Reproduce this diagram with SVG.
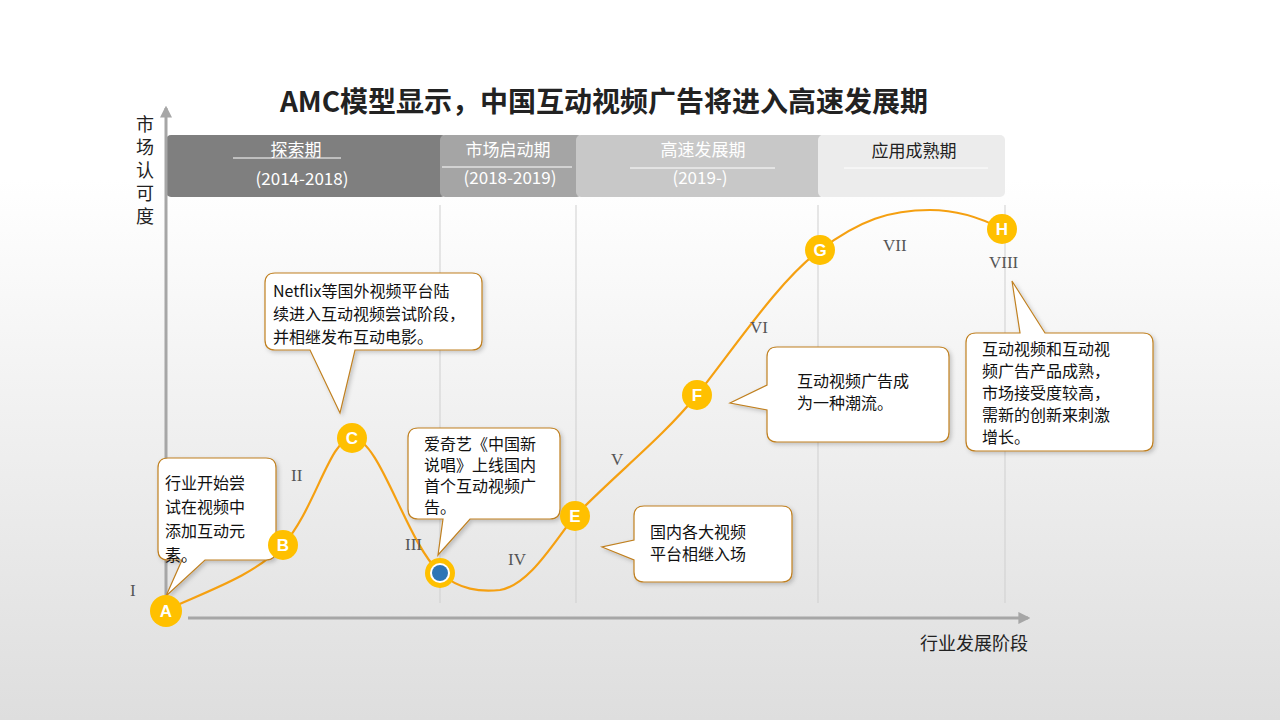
<svg xmlns="http://www.w3.org/2000/svg" width="1280" height="720" viewBox="0 0 1280 720">
<defs>
<linearGradient id="bg" x1="0" y1="0" x2="0" y2="1"><stop offset="0.25" stop-color="#ffffff"/><stop offset="1" stop-color="#dedede"/></linearGradient>
<marker id="ar" viewBox="0 0 10 10" refX="8" refY="5" markerWidth="4" markerHeight="4" orient="auto"><path d="M0,0L10,5L0,10z" fill="#a6a6a6"/></marker>
<filter id="sh" x="-10%" y="-10%" width="130%" height="130%"><feDropShadow dx="2" dy="2" stdDeviation="2" flood-color="#000" flood-opacity="0.2"/></filter>
</defs>
<style>
text{font-family:"Noto Sans CJK SC","Liberation Sans",sans-serif}
.call{fill:#fff;stroke:#c08020;stroke-width:1.2;filter:url(#sh)}
.ct{font-size:16px;fill:#111}
.rn{font-family:"Liberation Serif",serif;font-size:17px;fill:#555}
.dot{fill:#ffc000}
.lt{font-family:"Liberation Sans",sans-serif;font-weight:bold;font-size:17px;fill:#fff;text-anchor:middle}
.vl{stroke:#cfcfcf;stroke-width:1}
.hd{font-size:17px;text-anchor:middle}
.ax{font-size:18px;fill:#222;text-anchor:middle}
</style>
<rect width="1280" height="720" fill="url(#bg)"/>
<text x="604" y="112" text-anchor="middle" font-size="28" font-weight="bold" fill="#222">AMC模型显示，中国互动视频广告将进入高速发展期</text>
<g id="header">
<rect x="166" y="135" width="280" height="62" rx="5" fill="#7f7f7f"/>
<rect x="440" y="135" width="142" height="62" rx="5" fill="#a5a5a5"/>
<rect x="576" y="135" width="248" height="62" rx="5" fill="#c8c8c8"/>
<rect x="818" y="135" width="187" height="62" rx="5" fill="#ececec"/>
<text class="hd" x="296" y="156" fill="#fff">探索期</text>
<line x1="233" y1="158" x2="341" y2="158" stroke="#fff"/>
<text class="hd" x="302" y="185" fill="#fff">(2014-2018)</text>
<text class="hd" x="508" y="156" fill="#fff">市场启动期</text>
<line x1="442" y1="167" x2="572" y2="167" stroke="#fff"/>
<text class="hd" x="510" y="184" fill="#fff">(2018-2019)</text>
<text class="hd" x="703" y="156" fill="#fff">高速发展期</text>
<line x1="630" y1="168" x2="775" y2="168" stroke="#fff"/>
<text class="hd" x="700" y="184" fill="#fff">(2019-)</text>
<text class="hd" x="914" y="157" fill="#222">应用成熟期</text>
<line x1="844" y1="168" x2="988" y2="168" stroke="#fff"/>
</g>
<g id="grid">
<line class="vl" x1="440" y1="205" x2="440" y2="603"/>
<line class="vl" x1="576" y1="205" x2="576" y2="603"/>
<line class="vl" x1="818" y1="205" x2="818" y2="603"/>
<line class="vl" x1="1005" y1="205" x2="1005" y2="603"/>
</g>
<g id="axes" stroke="#a6a6a6" stroke-width="3" fill="none">
<line x1="166" y1="600" x2="166" y2="108" marker-end="url(#ar)"/>
<line x1="188" y1="618" x2="1028" y2="618" marker-end="url(#ar)"/>
</g>
<text class="ax" x="145" y="131">市</text>
<text class="ax" x="145" y="154">场</text>
<text class="ax" x="145" y="177">认</text>
<text class="ax" x="145" y="200">可</text>
<text class="ax" x="145" y="223">度</text>
<text class="ax" x="974" y="650">行业发展阶段</text>
<g id="connectors">
<path d="M166,610 C210,590 255,575 283,545 C315,510 330,438 352,438 C380,438 405,540 440,573 C460,590 480,592 500,590 C530,585 555,540 575,516 C620,470 660,440 697,395 C740,340 780,280 820,250 C860,220 890,210 930,210 C960,210 985,220 1002,229" fill="none" stroke="#f5a011" stroke-width="2.2"/>
</g>
<g id="roman">
<text class="rn" x="130" y="596">I</text>
<text class="rn" x="291" y="481">II</text>
<text class="rn" x="405" y="550">III</text>
<text class="rn" x="508" y="565">IV</text>
<text class="rn" x="611" y="465">V</text>
<text class="rn" x="750" y="333">VI</text>
<text class="rn" x="883" y="251">VII</text>
<text class="rn" x="989" y="268">VIII</text>
</g>
<g id="callout1"><path class="call" d="M168,458 H266 Q276,458 276,468 V550 Q276,560 266,560 H205 L166,596 L182,560 H168 Q158,560 158,550 V468 Q158,458 168,458 Z"/>
<text class="ct" x="165" y="489">行业开始尝</text><text class="ct" x="165" y="513">试在视频中</text><text class="ct" x="165" y="537">添加互动元</text><text class="ct" x="165" y="561">素。</text></g>
<g id="callout2"><path class="call" d="M275,273 H472 Q482,273 482,283 V340 Q482,350 472,350 H355 L340,413 L310,350 H275 Q265,350 265,340 V283 Q265,273 275,273 Z"/>
<text class="ct" x="273" y="297">Netflix等国外视频平台陆</text><text class="ct" x="273" y="320">续进入互动视频尝试阶段，</text><text class="ct" x="273" y="343">并相继发布互动电影。</text></g>
<g id="callout3"><path class="call" d="M418,428 H550 Q560,428 560,438 V509 Q560,519 550,519 H470 L438,555 L443,519 H418 Q408,519 408,509 V438 Q408,428 418,428 Z"/>
<text class="ct" x="424" y="450">爱奇艺《中国新</text><text class="ct" x="424" y="471">说唱》上线国内</text><text class="ct" x="424" y="492">首个互动视频广</text><text class="ct" x="424" y="513">告。</text></g>
<g id="callout4"><path class="call" d="M644,506 H782 Q792,506 792,516 V572 Q792,582 782,582 H644 Q634,582 634,572 V560 L602,547 L634,540 V516 Q634,506 644,506 Z"/>
<text class="ct" x="650" y="538">国内各大视频</text><text class="ct" x="650" y="560">平台相继入场</text></g>
<g id="callout5"><path class="call" d="M777,347 H939 Q949,347 949,357 V432 Q949,442 939,442 H777 Q767,442 767,432 V410 L730,403 L767,385 V357 Q767,347 777,347 Z"/>
<text class="ct" x="797" y="387">互动视频广告成</text><text class="ct" x="797" y="409">为一种潮流。</text></g>
<g id="callout6"><path class="call" d="M976,333 H1020 L1012,281 L1045,333 H1143 Q1153,333 1153,343 V441 Q1153,451 1143,451 H976 Q966,451 966,441 V343 Q966,333 976,333 Z"/>
<text class="ct" x="982" y="355">互动视频和互动视</text><text class="ct" x="982" y="377">频广告产品成熟，</text><text class="ct" x="982" y="399">市场接受度较高，</text><text class="ct" x="982" y="421">需新的创新来刺激</text><text class="ct" x="982" y="443">增长。</text></g>
<g id="nodeA"><circle class="dot" cx="166" cy="611" r="16"/><text class="lt" x="166" y="617">A</text></g>
<g id="nodeB"><circle class="dot" cx="283" cy="545" r="15"/><text class="lt" x="283" y="551">B</text></g>
<g id="nodeC"><circle class="dot" cx="352" cy="438" r="15"/><text class="lt" x="352" y="444">C</text></g>
<g id="nodeD"><circle class="dot" cx="440" cy="573" r="15"/><circle cx="440" cy="573" r="10" fill="#fff"/><circle cx="440" cy="573" r="8" fill="#2e75b6"/></g>
<g id="nodeE"><circle class="dot" cx="575" cy="516" r="15"/><text class="lt" x="575" y="522">E</text></g>
<g id="nodeF"><circle class="dot" cx="697" cy="395" r="15"/><text class="lt" x="697" y="401">F</text></g>
<g id="nodeG"><circle class="dot" cx="820" cy="250" r="15"/><text class="lt" x="820" y="256">G</text></g>
<g id="nodeH"><circle class="dot" cx="1002" cy="229" r="15"/><text class="lt" x="1002" y="235">H</text></g>
</svg>
